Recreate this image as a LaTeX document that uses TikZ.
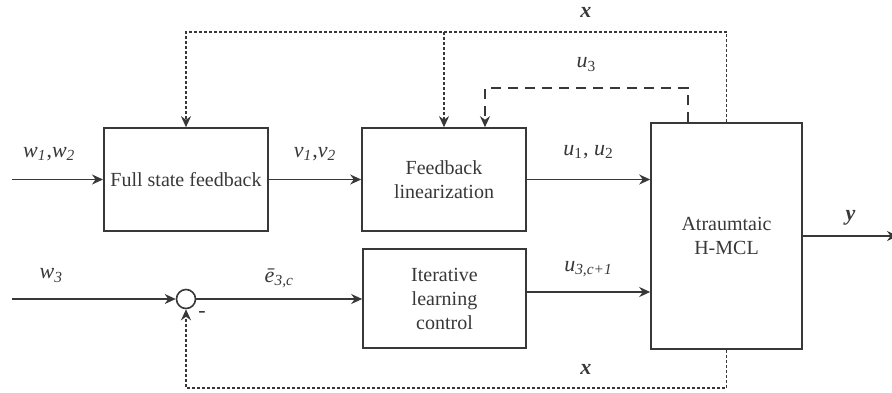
\documentclass[tikz,border=0pt]{standalone}
\usepackage{fontspec}
\setmainfont{Liberation Serif}
\usepackage{tikz}
\usetikzlibrary{arrows.meta,positioning}

\newcommand{\vsub}[2]{\textit{#1}\textsubscript{\textit{#2}}}
\newcommand{\usub}[2]{\textit{#1}\textsubscript{#2}}
\newcommand{\bvec}[1]{\textbf{\textit{#1}}}

\begin{document}
\begin{tikzpicture}[x=0.5pt, y=-0.5pt, color=black!78, line width=0.8pt,
      >={Stealth[length=5.5pt,width=5pt]},
      block/.style={draw, rectangle, align=center, font=\fontsize{10}{12}\selectfont},
      sumnode/.style={draw, circle, minimum size=9.5pt, inner sep=0pt},
      lbl/.style={inner sep=0pt, font=\fontsize{11}{13}\selectfont},
      xline/.style={dash pattern=on 1.5pt off 1pt},
      uline/.style={dash pattern=on 5pt off 3.5pt}]
    \useasboundingbox (0,0) rectangle (892,392);

    % blocks
    \node[block, minimum width=81pt, minimum height=51.5pt] (fsf) at (186,179.5) {Full state feedback};
    \node[block, minimum width=82pt, minimum height=51.5pt] (fl) at (444,179.5) {Feedback\\linearization};
    \node[block, minimum width=81.5pt, minimum height=49.5pt] (ilc) at (444.5,298.5) {Iterative\\learning\\control};
    \node[block, minimum width=75.5pt, minimum height=113pt] (plant) at (726.5,236) {Atraumtaic\\H-MCL};
    \node[sumnode, label={[lbl, label distance=3pt]-45:{-}}] (sum) at (186,299) {};

    % free ends
    \coordinate (in12) at (12,179.5);
    \coordinate (in3) at (12,299);
    \coordinate (yout) at (898,236);
    \coordinate (ilcout) at ([yshift=3.25pt]ilc.east);
    \coordinate (xr) at (726.5,32);
    \coordinate (xl) at (186,32);
    \coordinate (ur) at (688,88);
    \coordinate (ul) at (485,88);
    \coordinate (br) at (726.5,388);
    \coordinate (bl) at (186,388);

    % forward path
    \draw[->] (in12) -- node[lbl, pos=0.41, above=9pt] {\vsub{w}{1},\vsub{w}{2}} (fsf);
    \draw[->] (fsf) -- node[lbl, above=9pt] {\vsub{v}{1},\vsub{v}{2}} (fl);
    \draw[->] (fl) -- node[lbl, above=10pt] {\usub{u}{1}, \usub{u}{2}} (plant.west |- fl.east);
    \draw[->] (in3) -- node[lbl, pos=0.24, above=8pt] {\vsub{w}{3}} (sum);
    \draw[->] (sum) -- node[lbl, above=5pt] {\vsub{\=e}{3,c}} (ilc.west |- sum);
    \draw[->] (ilcout) -- node[lbl, above=7pt] {\vsub{u}{3,c+1}} (plant.west |- ilcout);
    \draw[->] (plant.east |- yout) -- node[lbl, above=5pt] {\bvec{y}} (yout);

    % state feedback x and u3
    \draw[xline,->] (plant.north) -- (xr) -- node[lbl, pos=0.26, above=7pt] {\bvec{x}} (xl) -- (fsf.north);
    \draw[xline,->] (xl -| fl.north) -- (fl.north);
    \draw[uline,->] (plant.north -| ur) -- (ur) -- node[lbl, above=8pt] {\usub{u}{3}} (ul) -- (fl.north -| ul);
    \draw[xline,->] (plant.south) -- (br) -- node[lbl, pos=0.26, above=6.5pt] {\bvec{x}} (bl) -- (sum);
\end{tikzpicture}
\end{document}
